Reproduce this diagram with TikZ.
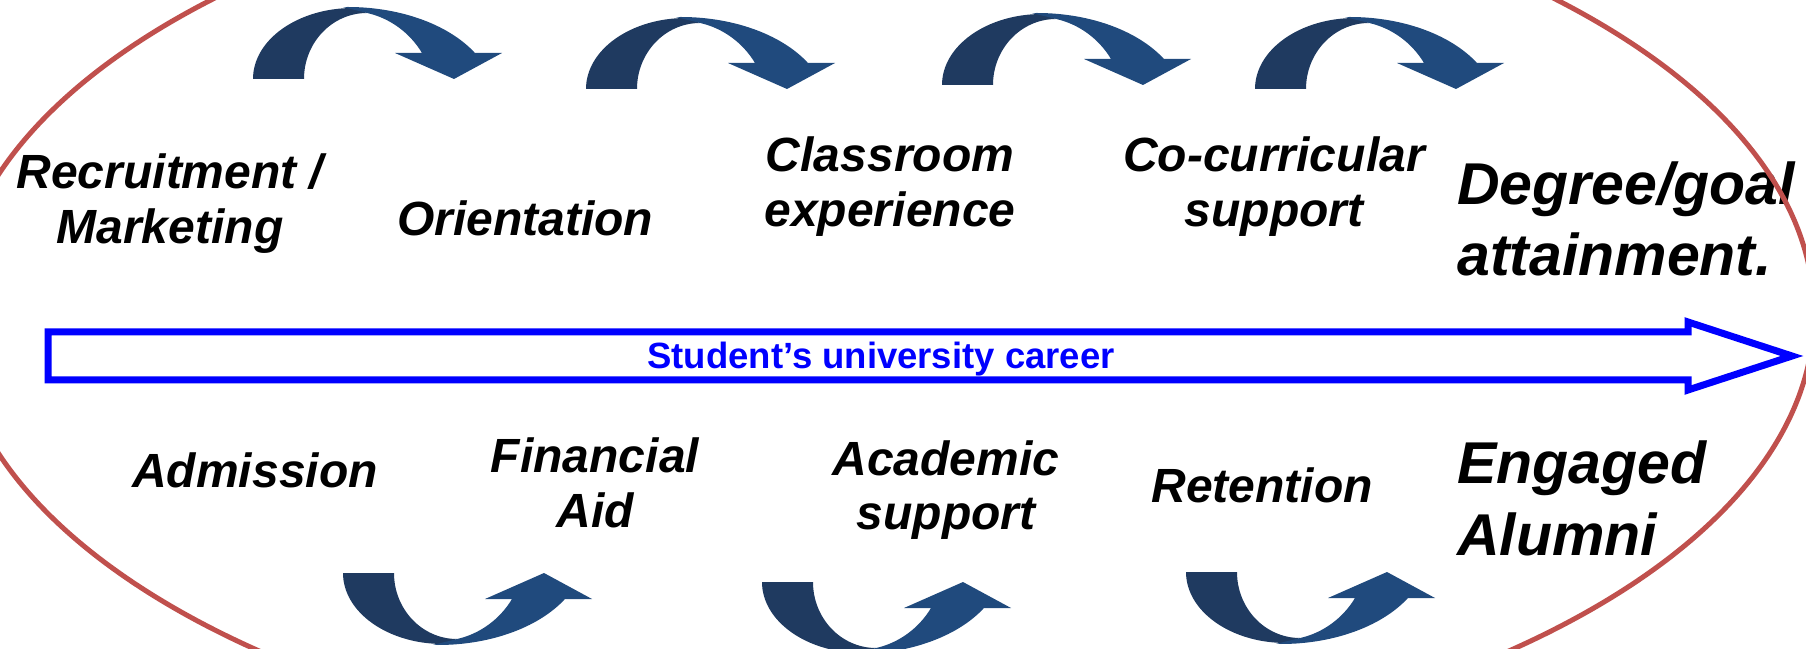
\documentclass[tikz,border=0pt]{standalone}
\usepackage{fontspec}
\setmainfont{Liberation Sans}
\definecolor{ovalred}{HTML}{C0504D}
\definecolor{navydark}{HTML}{1F3A60}
\definecolor{navylight}{HTML}{204A7D}
\definecolor{careerblue}{RGB}{0,0,255}
\tikzset{
    stage/.style={
           inner sep=0pt,
           align=center,
           anchor=base,
           font=\fontsize{48}{55}\selectfont\bfseries\itshape,
           },
    goal/.style={
           inner sep=0pt,
           align=left,
           anchor=base west,
           font=\fontsize{59}{71}\selectfont\bfseries\itshape,
           },
    bend arrow/.pic={
           % back of the ribbon, then the front part with its head
           \fill[navydark] (0,0) arc[start angle=180,end angle=90,x radius=100,y radius=71]
                -- (114,66) arc[start angle=90,end angle=180,x radius=63,y radius=66] -- cycle;
           \fill[navylight] ([shift={(95,-20)}]92:146.6 and 92)
                arc[start angle=92,end angle=30,x radius=146.6,y radius=92]
                -- (249,26) -- (201,0) -- (142,26) -- (169,26)
                arc[start angle=31.4,end angle=77.3,x radius=86.7,y radius=88.1] -- cycle;
           },
}

\begin{document}
\begin{tikzpicture}[x=1pt,y=1pt]
\useasboundingbox (0,0) rectangle (1806,648);
\clip (0,0) rectangle (1806,648);

\pic at (253,569) {bend arrow};
\pic at (586,559) {bend arrow};
\pic at (942,563) {bend arrow};
\pic at (1255,559) {bend arrow};
\pic[yscale=-1] at (343,75) {bend arrow};
\pic[yscale=-1] at (762,66) {bend arrow};
\pic[yscale=-1] at (1186,76) {bend arrow};

\draw[careerblue,line width=7pt] (48,316) -- (1688,316) -- (1688,326) -- (1792,292)
      -- (1688,258) -- (1688,268) -- (48,268) -- cycle;
\node[inner sep=0pt,anchor=base,text=careerblue,font=\fontsize{36.5}{44}\selectfont\bfseries]
      (career) at (881,279) {Student’s university career};

% multi-line labels sit on the baseline of their last line
\node[stage] (recruit) at (170,404) {Recruitment /\\Marketing};
\node[stage] (orient) at (525,412) {Orientation};
\node[stage] (classroom) at (890,421) {Classroom\\experience};
\node[stage] (cocurricular) at (1274,421) {Co-curricular\\support};
\node[goal] (degree) at (1457,372) {Degree/goal\\attainment.};

\node[stage] (admission) at (255,160) {Admission};
\node[stage] (finaid) at (595,121) {Financial\\Aid};
\node[stage] (academic) at (946,118) {Academic\\support};
\node[stage] (retention) at (1262,145) {Retention};
\node[goal] (alumni) at (1457,93) {Engaged\\Alumni};

\draw[ovalred,line width=5pt] (884,334) ellipse[x radius=930,y radius=455];
\end{tikzpicture}
\end{document}
